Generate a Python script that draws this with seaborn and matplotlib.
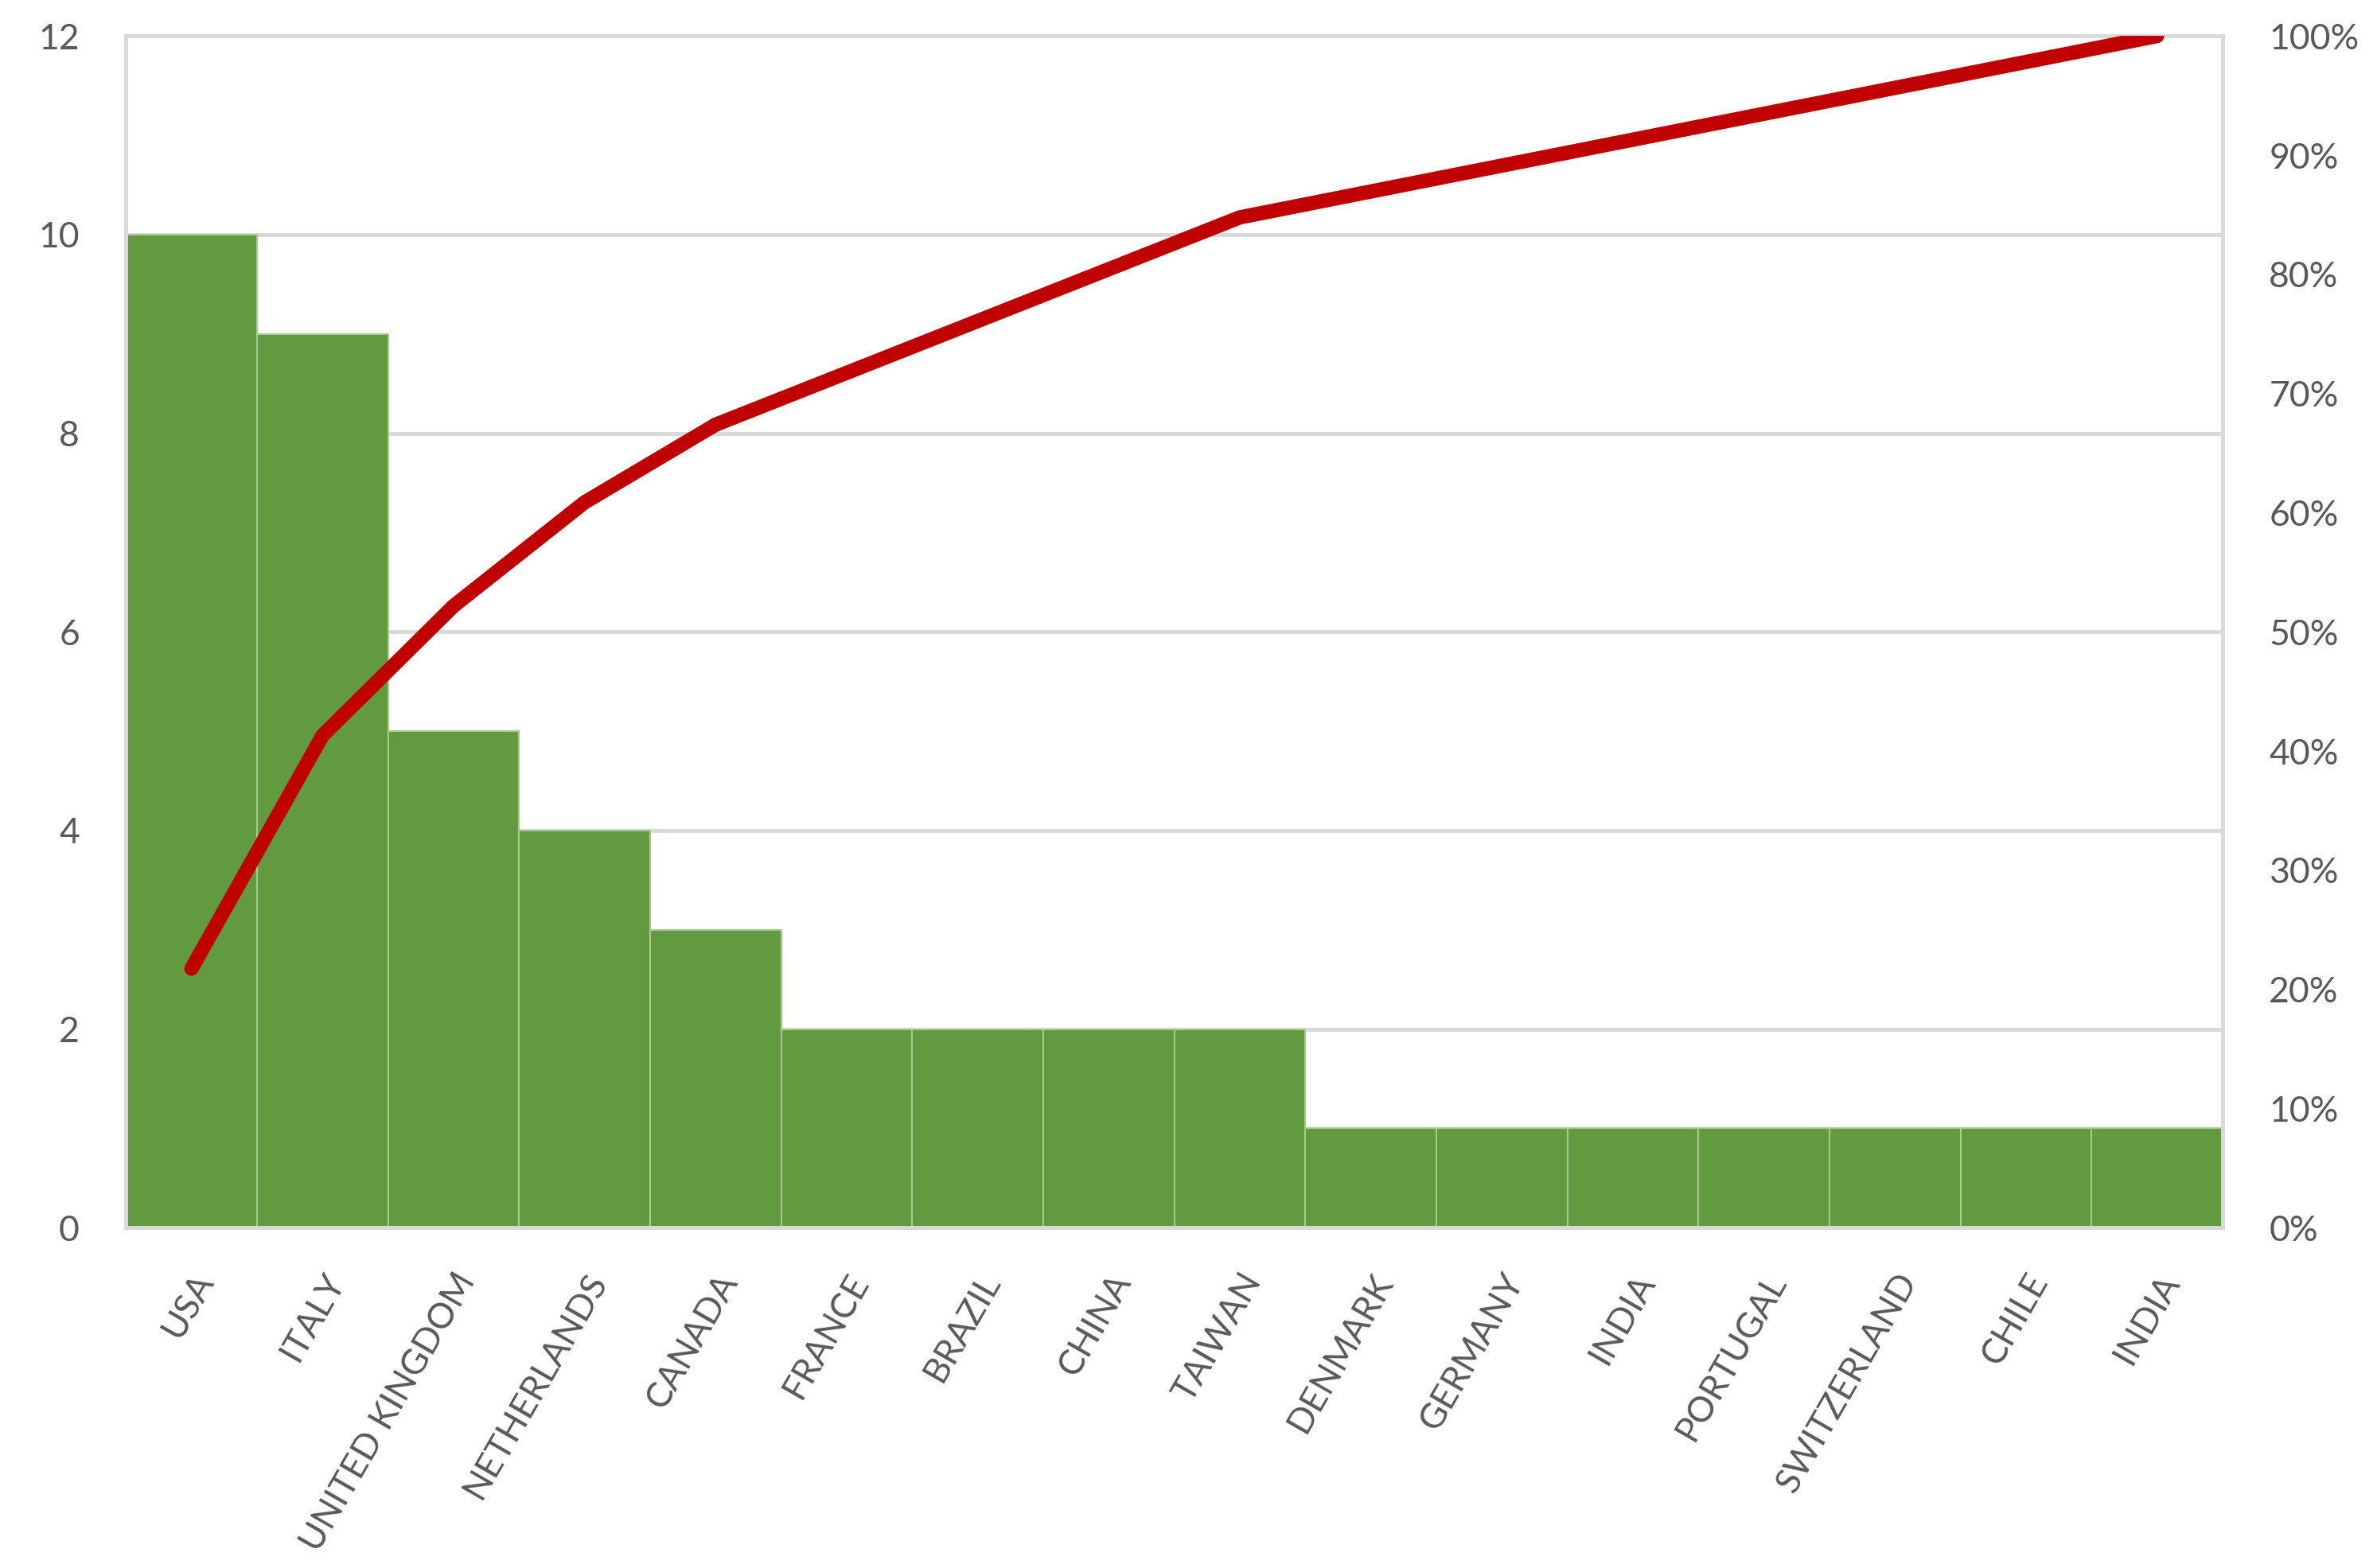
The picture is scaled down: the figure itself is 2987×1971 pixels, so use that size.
import numpy as np
import pandas as pd
import matplotlib
matplotlib.use('Agg')
import matplotlib.pyplot as plt
import seaborn as sns
from matplotlib.ticker import PercentFormatter

# Data
countries = ['USA', 'ITALY', 'UNITED KINGDOM', 'NETHERLANDS', 'CANADA', 'FRANCE',
             'BRAZIL', 'CHINA', 'TAIWAN', 'DENMARK', 'GERMANY', 'INDIA',
             'PORTUGAL', 'SWITZERLAND', 'CHILE', 'INDIA']
counts = [10, 9, 5, 4, 3, 2, 2, 2, 2, 1, 1, 1, 1, 1, 1, 1]

df = pd.DataFrame({'pos': range(len(countries)), 'country': countries, 'count': counts})
df['cum_share'] = df['count'].cumsum() / df['count'].sum()

sns.set_style('white')
plt.rcParams['font.family'] = ['Lato', 'DejaVu Sans']

grey = '#d9d9d9'
text_col = '#595959'

fig = plt.figure(figsize=(29.87, 19.71), dpi=100)
ax = fig.add_axes([0.053, 0.217, 0.882, 0.760])

sns.barplot(data=df, x='pos', y='count', color='#629a3f', saturation=1,
            width=1.0, edgecolor='#a8c990', linewidth=1.5, ax=ax, zorder=2)
ax.set_xlim(-0.5, len(countries) - 0.5)
ax.set_ylim(0, 12)
ax.set_yticks(range(0, 13, 2))
ax.yaxis.grid(True, color=grey, linewidth=3.5, zorder=0)
ax.set_axisbelow(True)
ax.set_xlabel('')
ax.set_ylabel('')
ax.set_xticks(df['pos'])
ax.set_xticklabels(countries, rotation=60, ha='right', rotation_mode='anchor')
ax.tick_params(axis='x', length=0, pad=36, labelsize=32, labelcolor=text_col)
ax.tick_params(axis='y', length=0, pad=42, labelsize=32, labelcolor=text_col)

# cumulative percentage on the right axis
ax2 = ax.twinx()
sns.lineplot(data=df, x='pos', y='cum_share', color='#c00000', linewidth=13,
             solid_capstyle='round', ax=ax2, zorder=5)
ax2.set_ylim(0, 1)
ax2.set_yticks(np.arange(0, 1.01, 0.1))
ax2.yaxis.set_major_formatter(PercentFormatter(1.0, decimals=0))
ax2.set_ylabel('')
ax2.set_xlabel('')
ax2.tick_params(axis='y', length=0, pad=42, labelsize=32, labelcolor=text_col)
ax2.set_xlim(-0.5, len(countries) - 0.5)

for a in (ax, ax2):
    for s in a.spines.values():
        s.set_color(grey)
        s.set_linewidth(3.5)

fig.savefig('out.png', dpi=100)
